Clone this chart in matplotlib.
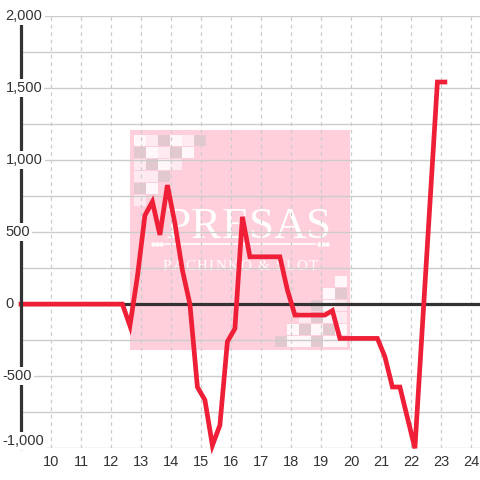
import matplotlib
matplotlib.use("Agg")
import matplotlib.pyplot as plt
from matplotlib.patches import Rectangle
from matplotlib.font_manager import FontProperties
from matplotlib.textpath import text_to_path

# hourly balance (x = hour of day, y = medals)
hours = [9.0, 12.38, 12.63, 12.88, 13.13, 13.38, 13.63, 13.88, 14.13, 14.38,
         14.63, 14.88, 15.13, 15.38, 15.63, 15.88, 16.13, 16.38, 16.63, 17.63,
         17.88, 18.13, 19.13, 19.38, 19.63, 20.88, 21.13, 21.38, 21.63, 22.13,
         22.88, 23.13]
balance = [0, 0, -150, 190, 615, 710, 480, 825, 560, 235,
           0, -575, -665, -980, -840, -260, -170, 605, 328, 328,
           98, -76, -76, -45, -238, -238, -365, -575, -575, -1000,
           1540, 1540]

xticks = list(range(10, 25))
yticks = [-1000, -500, 0, 500, 1000, 1500, 2000]
ylabels = ["-1,000", "-500", "0", "500", "1,000", "1,500", "2,000"]

RED = "#ee1f36"
DARK = "#333333"
GRID = "#cccccc"
PINK = "#ffc9d8"

fig = plt.figure(figsize=(4.8, 4.8), dpi=100)
W = 480.0
def fx(px):
    return px / W
def fy(py):
    return 1 - py / W

ax = fig.add_axes([fx(21), fy(448.3), fx(480) - fx(21), fy(15.7) - fy(448.3)])
ax.set_xlim(9, 24.3)
ax.set_ylim(-1000, 2000)
ax.set_axisbelow(True)

for s in ["top", "right", "bottom"]:
    ax.spines[s].set_visible(False)
ax.spines["left"].set_color(DARK)
ax.spines["left"].set_linewidth(2.3)
ax.spines["left"].set_zorder(4)

ax.set_xticks(xticks)
ax.set_yticks(range(-1000, 2001, 250))
ax.set_yticklabels([])
ax.tick_params(axis="y", length=0)
ax.tick_params(axis="x", length=0, pad=5, labelsize=10.5, labelcolor=DARK)
for lab in ax.get_xticklabels():
    lab.set_fontfamily("Liberation Sans")
ax.grid(axis="y", color=GRID, lw=1, ls="-")
ax.grid(axis="x", color=GRID, lw=0.9, ls=(0, (3, 3)))

# y labels sit on top of the axis line with white background
for v, t in zip(yticks, ylabels):
    px = 2.2 if t.startswith("-") else 5.6
    ax.text((px - 21) / 459, v, t, transform=ax.get_yaxis_transform(), ha="left",
            va="bottom" if v == -1000 else "center", fontsize=10.5,
            color=DARK, family="Liberation Sans", zorder=6,
            bbox=dict(facecolor="white", edgecolor="none", pad=1.5))

# watermark logo
fig.patches.append(Rectangle((fx(130), fy(350)), fx(220), fx(220),
                             transform=fig.transFigure, facecolor=PINK,
                             edgecolor="none", alpha=0.88, zorder=1))
top_left = ["wlgwlg", "gwlgw", "lgwl", "llg", "gw", "l"]
bottom_right = ["gwwgww", "wgwgw", "lgwl", "gwl", "wg", "w"]
cols = {"w": "#ffffff", "l": "#fff0f5", "g": "#dcc8cd"}
sq = 11.5
for r, row in enumerate(top_left):
    for c, k in enumerate(row):
        fig.patches.append(Rectangle((fx(134 + c * (sq + 0.5)), fy(134 + (r + 1) * (sq + 0.5))),
                                     fx(sq), fx(sq), transform=fig.transFigure,
                                     facecolor=cols[k], edgecolor="none", alpha=0.85, zorder=1.1))
for r, row in enumerate(bottom_right):
    n = len(row)
    for c, k in enumerate(row):
        x0 = 347 - (n - c) * (sq + 0.5)
        y0 = 347 - r * (sq + 0.5)
        fig.patches.append(Rectangle((fx(x0), fy(y0)), fx(sq), fx(sq),
                                     transform=fig.transFigure, facecolor=cols[k],
                                     edgecolor="none", alpha=0.85, zorder=1.1))


def spaced_text(s, x_left, y_base, size, extra):
    # draw characters one by one with extra letter spacing (pixels)
    fp = FontProperties(family="Liberation Serif", size=size)
    x = x_left
    for ch in s:
        w = text_to_path.get_text_width_height_descent(ch, fp, ismath=False)[0] * 100 / 72
        if ch == " ":
            w = size * 0.25 * 100 / 72
        fig.text(fx(x), fy(y_base), ch, ha="left", va="baseline", color="white",
                 fontproperties=fp, zorder=1.2)
        x += w + extra


spaced_text("PRESAS", 166, 238.5, 32.5, 0.0)
fig.lines.append(plt.Line2D([fx(165), fx(315)], [fy(243.5), fy(243.5)], color="white",
                            lw=1.2, transform=fig.transFigure, zorder=1.2))
for px in [153, 157, 161, 319, 323, 327]:
    fig.lines.append(plt.Line2D([fx(px)], [fy(243.5)], marker="o", ms=2.2, color="white",
                                transform=fig.transFigure, zorder=1.2))
spaced_text("PACHINKO & SLOT", 163, 270, 10.8, 1.5)

ax.patch.set_alpha(0)
ax.set_zorder(2)

ax.axhline(0, color=DARK, lw=2.3, zorder=2)
ax.plot(hours, balance, color=RED, lw=3.4, zorder=3, clip_on=False,
        solid_joinstyle="miter")

fig.savefig("out.png", dpi=100)
